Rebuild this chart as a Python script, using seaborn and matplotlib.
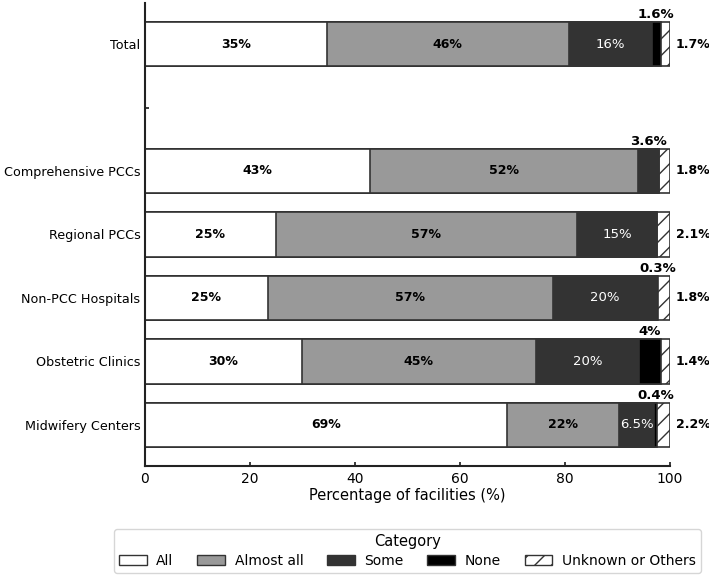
import pandas as pd
import seaborn as sns
import matplotlib.pyplot as plt
from matplotlib.patches import Patch

# Data
groups = ['Total', 'Comprehensive PCCs', 'Regional PCCs', 'Non-PCC Hospitals',
          'Obstetric Clinics', 'Midwifery Centers']
order = ['Total', ' ', 'Comprehensive PCCs', 'Regional PCCs', 'Non-PCC Hospitals',
         'Obstetric Clinics', 'Midwifery Centers']
categories = ['All', 'Almost all', 'Some', 'None', 'Unknown or Others']

all_pct = [34.7, 42.9, 25.0, 23.5, 30.0, 69.0]
almost_pct = [46.0, 51.1, 57.3, 54.2, 44.4, 21.3]
some_pct = [15.8, 3.9, 15.2, 19.8, 19.7, 6.7]
none_pct = [1.7, 0.0, 0.0, 0.3, 4.2, 0.5]
unknown_pct = [1.8, 2.1, 2.5, 2.2, 1.7, 2.5]

# printed labels (as shown on the chart)
all_lbl = ['35%', '43%', '25%', '25%', '30%', '69%']
almost_lbl = ['46%', '52%', '57%', '57%', '45%', '22%']
some_lbl = ['16%', '3.6%', '15%', '20%', '20%', '6.5%']
none_lbl = ['1.6%', '', '', '0.3%', '4%', '0.4%']
unknown_lbl = ['1.7%', '1.8%', '2.1%', '1.8%', '1.4%', '2.2%']

colors = {'All': 'white', 'Almost all': '#999999', 'Some': '#333333',
          'None': 'black', 'Unknown or Others': 'white'}
hatches = {'Unknown or Others': '//'}

sns.set_theme(style='ticks')
plt.rcParams['font.family'] = ['DejaVu Sans']
plt.rcParams['hatch.linewidth'] = 1.0
plt.rcParams['text.color'] = 'black'
plt.rcParams['axes.labelcolor'] = 'black'
plt.rcParams['xtick.labelcolor'] = 'black'
plt.rcParams['ytick.labelcolor'] = 'black'

df = pd.DataFrame({'group': groups, 'All': all_pct, 'Almost all': almost_pct,
                   'Some': some_pct, 'None': none_pct,
                   'Unknown or Others': unknown_pct})
cum = df[categories].cumsum(axis=1)
cum['group'] = df['group']
starts = cum[categories].shift(1, axis=1).fillna(0)

fig = plt.figure(figsize=(7.09, 5.76), dpi=100)
ax = fig.add_axes([0.204, 0.191, 0.741, 0.804])

edge = '#333333'
# stacked bars: draw cumulative totals from the last category to the first
for cat in reversed(categories):
    sns.barplot(data=cum, x=cat, y='group', order=order, orient='h',
                color=colors[cat], saturation=1, width=0.7,
                edgecolor=edge, linewidth=1.2, hatch=hatches.get(cat, ''),
                errorbar=None, ax=ax)

labels = {'All': all_lbl, 'Almost all': almost_lbl, 'Some': some_lbl,
          'None': none_lbl, 'Unknown or Others': unknown_lbl}
fs = 9
for i, g in enumerate(groups):
    y = order.index(g)
    for cat in categories:
        text = labels[cat][i]
        if not text:
            continue
        x0 = starts.loc[i, cat]
        w = df.loc[i, cat]
        xc = x0 + w / 2
        if cat == 'Unknown or Others':
            ax.text(101.1, y, text, ha='left', va='center', fontsize=fs,
                    fontweight='bold', color='black')
        elif cat == 'None' or w < 5:
            ax.text(xc, y - 0.36, text, ha='center', va='bottom', fontsize=fs + 0.5,
                    fontweight='bold', color='black')
        elif cat == 'Some':
            ax.text(xc, y, text, ha='center', va='center', fontsize=fs + 0.5,
                    color='white')
        else:
            ax.text(xc, y, text, ha='center', va='center', fontsize=fs,
                    fontweight='bold', color='black')

ax.set_xlim(0, 100)
ax.set_ylim(6.65, -0.65)
ax.set_ylabel('')
ax.set_xlabel('Percentage of facilities (%)', fontsize=10.5, labelpad=2)
ax.set_xticks([0, 20, 40, 60, 80, 100])
ax.tick_params(axis='both', direction='in', length=3, color='#222222')
ax.tick_params(axis='x', labelsize=10, pad=4)
ax.tick_params(axis='y', labelsize=9.2, pad=3)
for side in ['top', 'right']:
    ax.spines[side].set_visible(False)
for side in ['left', 'bottom']:
    ax.spines[side].set_color('#222222')
    ax.spines[side].set_linewidth(1.5)

handles = [Patch(facecolor=colors[c], edgecolor=edge, hatch=hatches.get(c, ''),
                 label=c) for c in categories]
leg = ax.legend(handles=handles, title='Category', loc='upper center',
                bbox_to_anchor=(0.5, -0.122), ncol=5, fontsize=10,
                title_fontsize=10.5, frameon=True, fancybox=True,
                columnspacing=1.7, handlelength=2.0, handletextpad=0.7,
                borderpad=0.35, labelspacing=0.35)
leg.get_frame().set_edgecolor('#cccccc')

fig.savefig('out.png', dpi=100)
